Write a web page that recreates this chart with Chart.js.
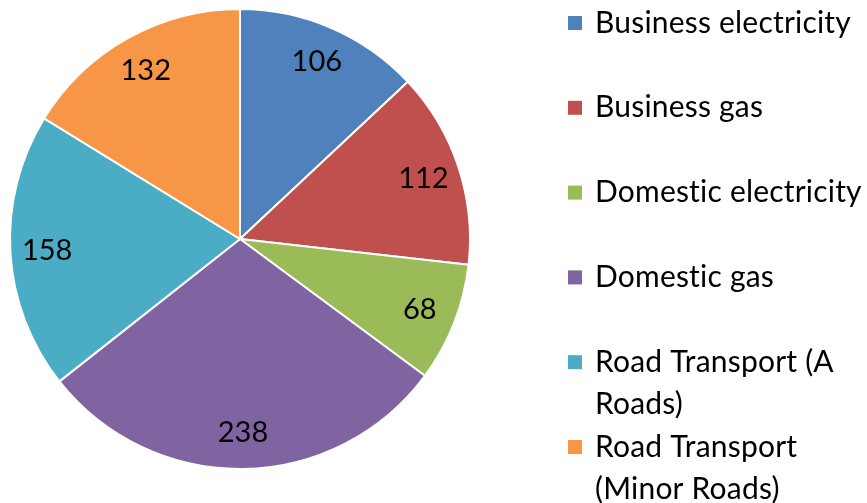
<!DOCTYPE html>
<html>
<head>
<meta charset="utf-8">
<script src="https://cdn.jsdelivr.net/npm/chart.js@4/dist/chart.umd.min.js"></script>
<style>
  html, body { margin: 0; padding: 0; background: #fff; }
  #wrap { position: relative; width: 867px; height: 503px; }
</style>
</head>
<body>
<div id="wrap"><canvas id="pie"></canvas></div>
<script>
// values
const categories = [
  "Business electricity",
  "Business gas",
  "Domestic electricity",
  "Domestic gas",
  "Road Transport (A Roads)",
  "Road Transport (Minor Roads)"
];
const emissions = [106, 112, 68, 238, 158, 132];
const sliceColours = ["#4F81BD", "#C0504D", "#9BBB59", "#8064A2", "#4BACC6", "#F79646"];

const FONT = "Lato, 'Open Sans', sans-serif";

// value labels, placed inside each slice towards the rim
const sliceLabels = {
  id: "sliceLabels",
  afterDatasetsDraw(chart) {
    const ctx = chart.ctx;
    const meta = chart.getDatasetMeta(0);
    ctx.save();
    ctx.font = "29px " + FONT;
    ctx.fillStyle = "#000";
    ctx.textAlign = "center";
    ctx.textBaseline = "middle";
    meta.data.forEach((arc, i) => {
      const p = arc.getProps(["x", "y", "startAngle", "endAngle", "outerRadius"], true);
      const mid = (p.startAngle + p.endAngle) / 2;
      const r = p.outerRadius * 0.84;
      ctx.fillText(String(chart.data.datasets[0].data[i]),
                   p.x + Math.cos(mid) * r, p.y + Math.sin(mid) * r);
    });
    ctx.restore();
  }
};

// legend on the right, wrapping long names like the original
const sideLegend = {
  id: "sideLegend",
  afterDraw(chart, args, opts) {
    const ctx = chart.ctx;
    const colours = chart.data.datasets[0].backgroundColor;
    ctx.save();
    ctx.font = opts.size + "px " + FONT;
    ctx.letterSpacing = "0.2px"; // stops Lato's "ti" ligature
    ctx.fillStyle = "#000";
    ctx.textBaseline = "middle";
    ctx.textAlign = "left";
    const maxW = chart.width - opts.textX - 2;
    chart.data.labels.forEach((label, i) => {
      // simple word wrap
      const lines = [];
      let cur = "";
      label.split(" ").forEach(w => {
        const test = cur ? cur + " " + w : w;
        if (cur && ctx.measureText(test).width > maxW) {
          lines.push(cur);
          cur = w;
        } else {
          cur = test;
        }
      });
      lines.push(cur);
      const y0 = opts.top + i * opts.step;
      ctx.fillStyle = colours[i];
      ctx.fillRect(opts.boxX, y0 - opts.box / 2, opts.box, opts.box);
      ctx.fillStyle = "#000";
      lines.forEach((ln, k) => ctx.fillText(ln, opts.textX, y0 + k * opts.lineH));
    });
    ctx.restore();
  }
};

new Chart(document.getElementById("pie"), {
  type: "pie",
  data: {
    labels: categories,
    datasets: [{
      data: emissions,
      backgroundColor: sliceColours,
      borderColor: "#fff",
      borderWidth: 2,
      hoverOffset: 0
    }]
  },
  options: {
    responsive: true,
    maintainAspectRatio: false,
    animation: false,
    events: [],
    layout: { padding: { left: 9, top: 8, right: 396, bottom: 33 } },
    plugins: {
      legend: { display: false },
      tooltip: { enabled: false },
      sideLegend: { size: 30, top: 23, step: 84.8, lineH: 42, boxX: 568, box: 14, textX: 595 }
    }
  },
  plugins: [sliceLabels, sideLegend]
});
</script>
</body>
</html>
